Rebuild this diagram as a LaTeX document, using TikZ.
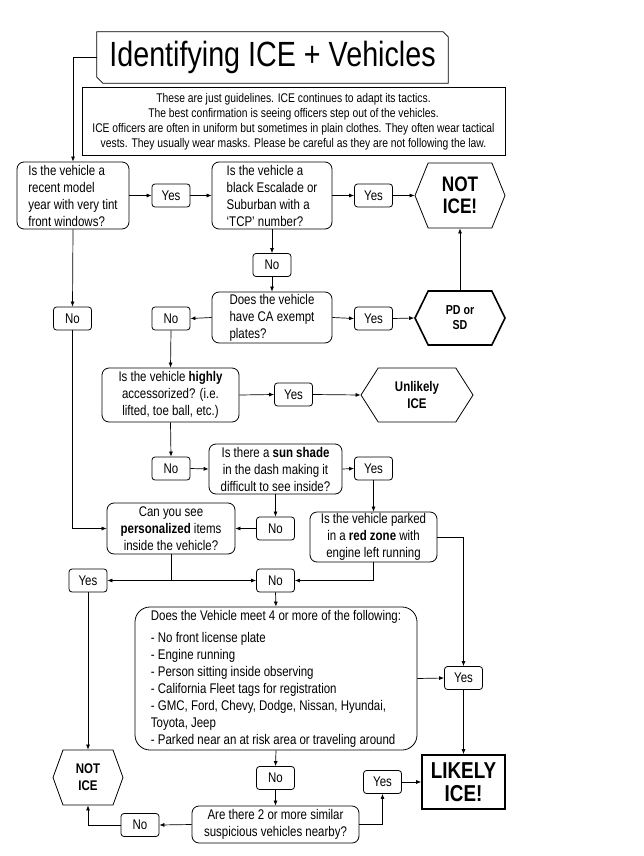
\documentclass[tikz,border=0pt]{standalone}
\usepackage{fontspec}
\setmainfont[FakeStretch=0.82]{Liberation Sans}
\usetikzlibrary{arrows.meta, shapes.symbols, positioning}

\newcommand{\qfont}{\fontsize{14}{17}\selectfont}
\newcommand{\notefont}{\fontsize{12.6}{15}\selectfont}

\begin{document}
\begin{tikzpicture}[
    x=1pt, y=-1pt,
    qbox/.style={draw, rounded corners=7pt, line width=0.8pt, align=center, inner sep=0pt, font=\qfont},
    ans/.style={draw, rounded corners=3pt, line width=0.8pt, minimum width=38pt, minimum height=23pt, inner sep=0pt, font=\qfont},
    hexbox/.style={draw, signal, signal to=east and west, line width=0.8pt, align=center, inner sep=0pt},
    arrow/.style={-{Latex[length=5pt, width=4pt]}, line width=0.7pt}
]
    \useasboundingbox (0,0) rectangle (643,856);

    % title and note
    \node[minimum width=351pt, minimum height=51pt, inner sep=0pt, font=\fontsize{35}{40}\selectfont] (title) at (272.5,57.5) {Identifying ICE + Vehicles};
    \draw[line width=0.8pt] (title.north west) -- ([xshift=-5pt]title.north east) -- ([yshift=-5pt]title.north east)
        -- (title.south east) -- ([xshift=6pt]title.south west) -- ([yshift=6pt]title.south west) -- cycle;
    \node[draw, line width=1pt, minimum width=423pt, minimum height=67pt, align=center, inner sep=0pt, font=\notefont] (note) at (293.5,121.5)
        {These are just guidelines. ICE continues to adapt its tactics.\\
         The best confirmation is seeing officers step out of the vehicles.\\
         ICE officers are often in uniform but sometimes in plain clothes. They often wear tactical\\
         vests. They usually wear masks. Please be careful as they are not following the law.};

    % questions
    \node[qbox, align=left, minimum width=112pt, minimum height=67pt] (tint) at (73,195.5) {Is the vehicle a\\recent model\\year with very tint\\front windows?};
    \node[qbox, align=left, minimum width=120pt, minimum height=67pt] (escalade) at (272,195.5) {Is the vehicle a\\black Escalade or\\Suburban with a\\`TCP' number?};
    \node[qbox, align=left, minimum width=120pt, minimum height=51pt] (exempt) at (272,317.5) {Does the vehicle\\have CA exempt\\plates?};
    \node[qbox, minimum width=137pt, minimum height=54pt] (accessory) at (170.5,395) {Is the vehicle \textbf{highly}\\accessorized? (i.e.\\lifted, toe ball, etc.)};
    \node[qbox, minimum width=133pt, minimum height=50pt] (sunshade) at (275.5,469) {Is there a \textbf{sun shade}\\in the dash making it\\difficult to see inside?};
    \node[qbox, minimum width=128pt, minimum height=51pt] (personal) at (171,528.5) {Can you see\\\textbf{personalized} items\\inside the vehicle?};
    \node[qbox, minimum width=127pt, minimum height=50pt] (redzone) at (373.5,537) {Is the vehicle parked\\in a \textbf{red zone} with\\engine left running};
    \node[qbox, rounded corners=15pt, align=left, minimum width=282pt, minimum height=143pt] (checklist) at (276,678.5)
        {Does the Vehicle meet 4 or more of the following:\\[5pt]
         - No front license plate\\
         - Engine running\\
         - Person sitting inside observing\\
         - California Fleet tags for registration\\
         - GMC, Ford, Chevy, Dodge, Nissan, Hyundai,\\
         Toyota, Jeep\\
         - Parked near an at risk area or traveling around};
    \node[qbox, minimum width=167pt, minimum height=37pt] (similar) at (275.5,824.5) {Are there 2 or more similar\\suspicious vehicles nearby?};

    % answers
    \node[ans] (yesA) at (171,195.5) {Yes};
    \node[ans] (yesB) at (373.5,195.5) {Yes};
    \node[ans] (noB) at (272,265) {No};
    \node[ans] (noA) at (72.5,318.5) {No};
    \node[ans] (noC) at (171,318.5) {No};
    \node[ans] (yesC) at (373.5,318.5) {Yes};
    \node[ans] (yesD) at (293.5,394.5) {Yes};
    \node[ans] (noD) at (171,468.5) {No};
    \node[ans] (yesE) at (373.5,468.5) {Yes};
    \node[ans] (noE) at (275.5,528.5) {No};
    \node[ans] (yesF) at (88,580.5) {Yes};
    \node[ans] (noF) at (275.5,580.5) {No};
    \node[ans] (yesG) at (463.5,678) {Yes};
    \node[ans] (noG) at (275.5,778) {No};
    \node[ans] (yesH) at (382.5,782) {Yes};
    \node[ans] (noH) at (140,825) {No};

    % results
    \node[hexbox, signal pointer angle=136, minimum width=90pt, minimum height=65pt, font=\fontsize{21}{22}\selectfont\bfseries] (notice) at (460,195.5) {NOT\\ICE!};
    \node[hexbox, line width=1.6pt, signal pointer angle=128, minimum width=90pt, minimum height=54pt, font=\fontsize{13}{15}\selectfont\bfseries] (police) at (460,318) {PD or\\SD};
    \node[hexbox, signal pointer angle=115, minimum width=112pt, minimum height=54pt, font=\fontsize{14}{17}\selectfont\bfseries] (unlikely) at (417,395) {Unlikely\\ICE};
    \node[hexbox, signal pointer angle=140, minimum width=70pt, minimum height=55pt, font=\fontsize{14}{17}\selectfont\bfseries] (notice2) at (88,777.5) {NOT\\ICE};
    \node[draw, line width=1.6pt, minimum width=83pt, minimum height=54pt, align=center, inner sep=0pt, font=\fontsize{23}{23}\selectfont\bfseries] (likely) at (463.5,782) {LIKELY\\ICE!};

    \coordinate (split) at (personal.south |- yesF.east);

    % connectors
    \draw[arrow] (title.west) -| (tint.north);
    \draw[arrow] (tint.east) -- (yesA.west);
    \draw[arrow] (yesA.east) -- (escalade.west);
    \draw[arrow] (escalade.east) -- (yesB.west);
    \draw[arrow] (yesB.east) -- (notice.west);
    \draw[arrow] (escalade.south) -- (noB.north);
    \draw[arrow] (noB.south) -- (exempt.north);
    \draw[arrow] (exempt.west) -- (noC.east);
    \draw[arrow] (exempt.east) -- (yesC.west);
    \draw[arrow] (yesC.east) -- (police.west);
    \draw[arrow] (police.north) -- (notice.south);
    \draw[arrow] (tint.south) -- (noA.north);
    \draw[arrow] (noA.south) |- (personal.west);
    \draw[arrow] (noC.south) -- (accessory.north);
    \draw[arrow] (accessory.east) -- (yesD.west);
    \draw[arrow] (yesD.east) -- (unlikely.west);
    \draw[arrow] (accessory.south) -- (noD.north);
    \draw[arrow] (noD.east) -- (sunshade.west);
    \draw[arrow] (sunshade.east) -- (yesE.west);
    \draw[arrow] (yesE.south) -- (redzone.north);
    \draw[arrow] (sunshade.south) -- (noE.north);
    \draw[arrow] (noE.west) -- (personal.east);
    \draw[line width=0.7pt] (personal.south) -- (split);
    \draw[arrow] (split) -- (yesF.east);
    \draw[arrow] (split) -- (noF.west);
    \draw[arrow] (redzone.south) |- (noF.east);
    \draw[arrow] (redzone.east) -| (yesG.north);
    \draw[arrow] (noF.south) -- (checklist.north);
    \draw[arrow] (checklist.east) -- (yesG.west);
    \draw[arrow] (yesG.south) -- (likely.north);
    \draw[arrow] (checklist.south) -- (noG.north);
    \draw[arrow] (noG.south) -- (similar.north);
    \draw[arrow] (similar.east) -| (yesH.south);
    \draw[arrow] (yesH.east) -- (likely.west);
    \draw[arrow] (similar.west) -- (noH.east);
    \draw[arrow] (noH.west) -| (notice2.south);
    \draw[arrow] (yesF.south) -- (notice2.north);
\end{tikzpicture}
\end{document}
